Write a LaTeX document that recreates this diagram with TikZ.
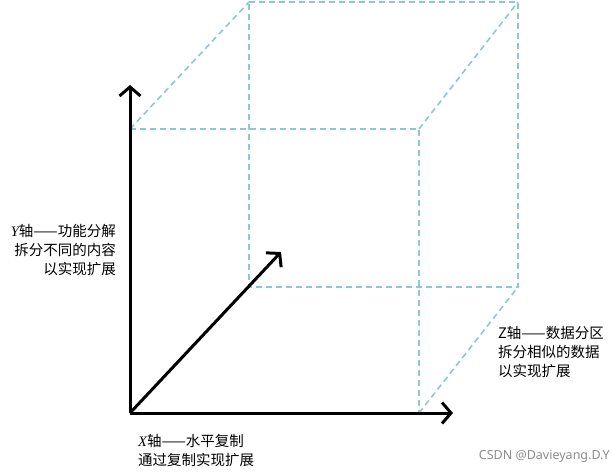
\documentclass[tikz,border=0pt]{standalone}
\usepackage{fontspec}
\setmainfont{Liberation Serif}
\newfontfamily\cjk{Noto Sans CJK SC}
\newfontfamily\letterfont{Liberation Serif}
\newfontfamily\wmfont{Noto Sans}
\usepackage{xcolor}
\usepackage{tikz}
\usetikzlibrary{arrows.meta}
\definecolor{cubeblue}{RGB}{140,200,214}
\newcommand{\axisletter}[1]{{\letterfont\itshape #1}}

\begin{document}
\begin{tikzpicture}
[
	x = 1pt, y = -1pt,
	axis/.style	= {-{Straight Barb[length = 9pt, width = 21pt, line width = 3pt]}, line width = 3pt, draw = black},
	cubeedge/.style	= {draw = cubeblue, line width = 1.6pt, dash pattern = on 6pt off 4pt},
	axislabel/.style	= {font = \cjk\fontsize{14.5}{19}\selectfont, inner sep = 0pt},
	watermark/.style	= {font = \wmfont\fontsize{12.5}{14}\selectfont, text = black!45!white, inner sep = 0pt},
]
	\useasboundingbox (0,0) rectangle (612,472);

	% front face
	\coordinate (O) at (130,413);
	\coordinate (F1) at (130,129);
	\coordinate (F2) at (419,129);
	\coordinate (F3) at (419,413);
	% back face
	\coordinate (B1) at (249,2);
	\coordinate (B2) at (518,2);
	\coordinate (B3) at (518,287);
	\coordinate (B4) at (249,287);
	% axis ends
	\coordinate (Yend) at (130,85);
	\coordinate (Xend) at (453,413);
	\coordinate (Zend) at (281,252);

	\draw [cubeedge] (F1) -- (F2) -- (F3);
	\draw [cubeedge] (B1) -- (B2) -- (B3) -- (B4) -- cycle;
	\draw [cubeedge] (F1) -- (B1);
	\draw [cubeedge] (F2) -- (B2);
	\draw [cubeedge] (F3) -- (B3);
	%
	\draw [axis] (O) -- (Yend);
	\draw [axis] (O) -- (Xend);
	\draw [axis] (O) -- (Zend);

	\node (Ylabel) [axislabel, anchor = north east, align = right] at (116,224)
		{\axisletter{Y}轴——功能分解\\拆分不同的内容\\以实现扩展};
	\node (Xlabel) [axislabel, anchor = north west, align = left] at (138,434)
		{\axisletter{X}轴——水平复制\\通过复制实现扩展};
	\node (Zlabel) [axislabel, anchor = north west, align = left] at (498,326)
		{Z轴——数据分区\\拆分相似的数据\\以实现扩展};
	%
	\node (credit) [watermark, anchor = east] at (610,456) {CSDN @Davieyang.D.Y};

\end{tikzpicture}
\end{document}
